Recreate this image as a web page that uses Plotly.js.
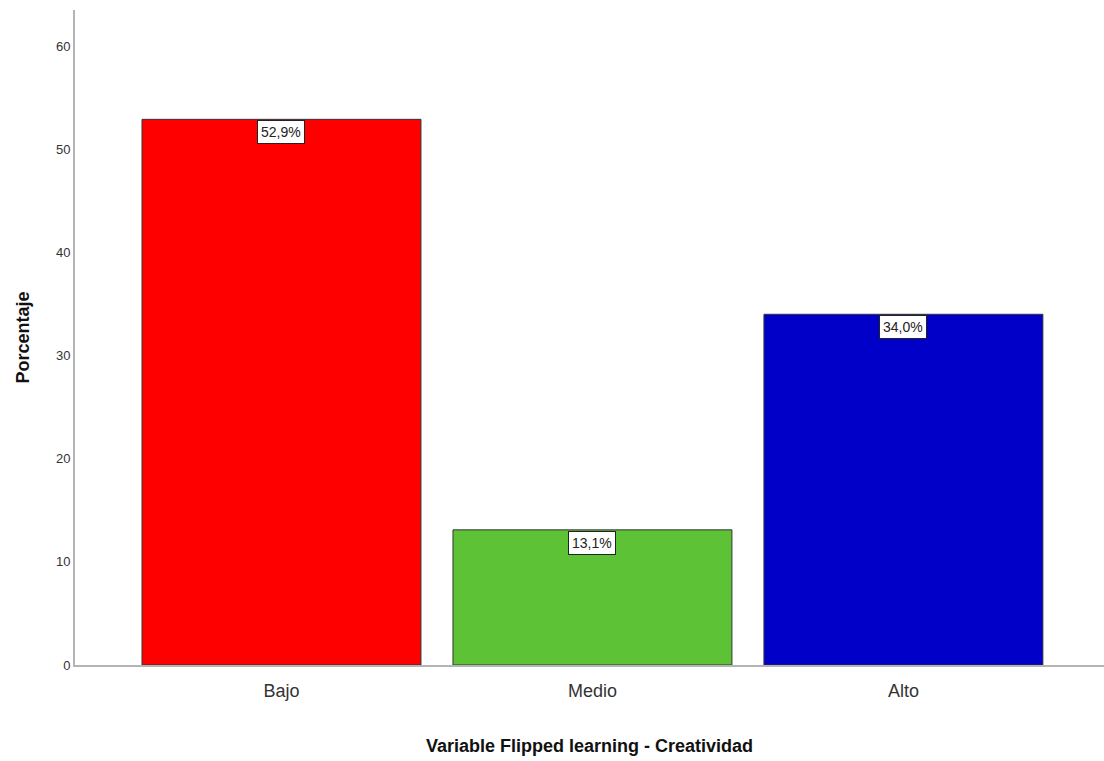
<!DOCTYPE html>
<html>
<head>
<meta charset="utf-8">
<script src="https://cdn.plot.ly/plotly-3.0.1.min.js"></script>
<style>html,body{margin:0;padding:0;background:#fff;}#chart{width:1104px;height:761px;}</style>
</head>
<body>
<div id="chart"></div>
<script>
const categories = ["Bajo", "Medio", "Alto"];
const percentages = [52.9, 13.1, 34.0];
const labels = ["52,9%", "13,1%", "34,0%"];
const barColors = ["#ff0000", "#5ec237", "#0000c8"];
const yTicks = [0, 10, 20, 30, 40, 50, 60];

const trace = {
  type: "bar",
  x: categories.map((c, i) => i),
  y: percentages,
  width: 0.897,
  marker: {color: barColors, line: {color: "#333333", width: 1}},
  hoverinfo: "skip"
};

const annotations = percentages.map((v, i) => ({
  x: i, y: v, xref: "x", yref: "y",
  text: labels[i], showarrow: false,
  yanchor: "top", yshift: -1,
  bgcolor: "#ffffff", bordercolor: "#222222", borderwidth: 1, borderpad: 3,
  font: {family: "Liberation Sans Narrow, Liberation Sans, Arial, sans-serif", size: 14, color: "#222222"}
}));

const layout = {
  width: 1104, height: 761,
  margin: {l: 75, r: 0, t: 10, b: 96},
  paper_bgcolor: "#ffffff", plot_bgcolor: "#ffffff",
  showlegend: false,
  bargap: 0,
  xaxis: {
    range: [-0.664, 2.645],
    tickvals: [0, 1, 2], ticktext: categories,
    showgrid: false, zeroline: false,
    showline: true, linecolor: "#b4b4b4", linewidth: 2,
    ticks: "", ticklen: 0,
    ticklabelstandoff: 8,
    tickfont: {family: "Liberation Sans, Arial, sans-serif", size: 18, color: "#333333"},
    title: {text: "<b>Variable Flipped learning - Creatividad</b>", standoff: 40,
      font: {family: "Liberation Sans, Arial, sans-serif", size: 18, color: "#111111"}}
  },
  yaxis: {
    range: [0, 63.5],
    tickvals: yTicks,
    showgrid: false, zeroline: false,
    showline: true, linecolor: "#b4b4b4", linewidth: 2,
    ticks: "", ticklen: 0,
    tickfont: {family: "Liberation Sans, Arial, sans-serif", size: 13, color: "#333333"},
    title: {text: "<b>Porcentaje</b>", standoff: 22,
      font: {family: "Liberation Sans, Arial, sans-serif", size: 18, color: "#111111"}}
  },
  annotations: annotations
};

Plotly.newPlot("chart", [trace], layout, {displayModeBar: false, staticPlot: true});
</script>
</body>
</html>
